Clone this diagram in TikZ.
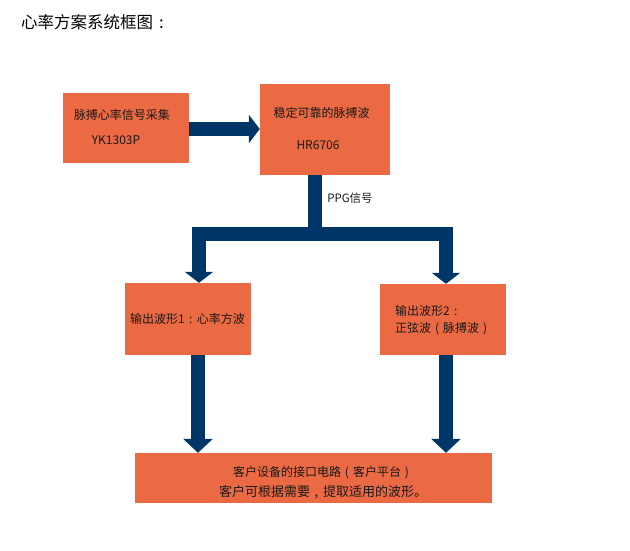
\documentclass[tikz,border=0pt]{standalone}
\usepackage{fontspec}
\setmainfont{Noto Sans CJK SC}
\usetikzlibrary{arrows.meta,calc}
\definecolor{boxorange}{RGB}{236,106,67}
\definecolor{navy}{RGB}{0,53,104}
\newcommand{\zwl}{\makebox[1em][c]{(}}
\newcommand{\zwr}{\makebox[1em][c]{)}}
\newcommand{\zwcolon}{\makebox[1em][c]{:}}
\newcommand{\zwcomma}{\makebox[1em][c]{,}}
\begin{document}
\begin{tikzpicture}[x=1pt,y=-1pt,
  box/.style={fill=boxorange, draw=none, inner sep=0pt},
  txt/.style={inner sep=0pt, text=black!90, font=\fontsize{12}{14}\selectfont},
  flow/.style={draw=navy, line width=14pt, line join=miter},
  headA/.style={-{Triangle[width=28pt,length=11pt]}},
  headB/.style={{Triangle[width=28pt,length=11pt]}-{Triangle[width=28pt,length=11pt]}},
  headC/.style={-{Triangle[width=29pt,length=14pt]}}]
\useasboundingbox (0,0) rectangle (630,550);

% title
\node[inner sep=0pt, anchor=west, font=\fontsize{16.5}{18}\selectfont] (title) at (21,22) {心率方案系统框图\zwcolon};

% boxes
\node[box, minimum width=126pt, minimum height=70pt] (src) at (126,128) {};
\node[box, minimum width=130pt, minimum height=91pt] (hr) at (325,129.5) {};
\node[box, minimum width=126pt, minimum height=72pt] (out1) at (188,319) {};
\node[box, minimum width=126pt, minimum height=71pt] (out2) at (443,319.5) {};
\node[box, minimum width=357pt, minimum height=50pt] (cust) at (313.5,478) {};

% texts
\node[txt] (srcA) at (122,115) {脉搏心率信号采集};
\node[txt] (srcB) at (116,140) {YK1303P};
\node[txt] (hrA) at (321.5,113) {稳定可靠的脉搏波};
\node[txt] (hrB) at (318,145) {HR6706};
\node[txt, font=\fontsize{11.5}{13}\selectfont] (ppg) at (350,198) {PPG信号};
\node[txt] (o1) at (187.5,319) {输出波形1\zwcolon 心率方波};
\node[txt, anchor=west] (o2a) at (395,311) {输出波形2\zwcolon};
\node[txt, anchor=west] (o2b) at (395,329) {正弦波\zwl 脉搏波\zwr};
\node[txt] (c1) at (323,473) {客户设备的接口电路\zwl 客户平台\zwr};
\node[txt, font=\fontsize{13}{15}\selectfont] (c2) at (323,492) {客户可根据需要\zwcomma 提取适用的波形。};

% connectors
\draw[flow, headA] ($(src.east)+(0,1)$) -- ($(src.east -| hr.west)+(0,1)$);

\coordinate (split) at (315,234);
\draw[flow] (split |- hr.south) -- (split);
\coordinate (lt) at ($(out1.north)+(11,0)$);
\coordinate (rt) at ($(out2.north)+(3,0)$);
\draw[flow, headB] (lt) |- (split) -| (rt);

\coordinate (d1) at ($(out1.south)+(10,0)$);
\coordinate (d2) at ($(out2.south)+(3,0)$);
\draw[flow, headC] (d1) -- (d1 |- cust.north);
\draw[flow, headC] (d2) -- (d2 |- cust.north);
\end{tikzpicture}
\end{document}
